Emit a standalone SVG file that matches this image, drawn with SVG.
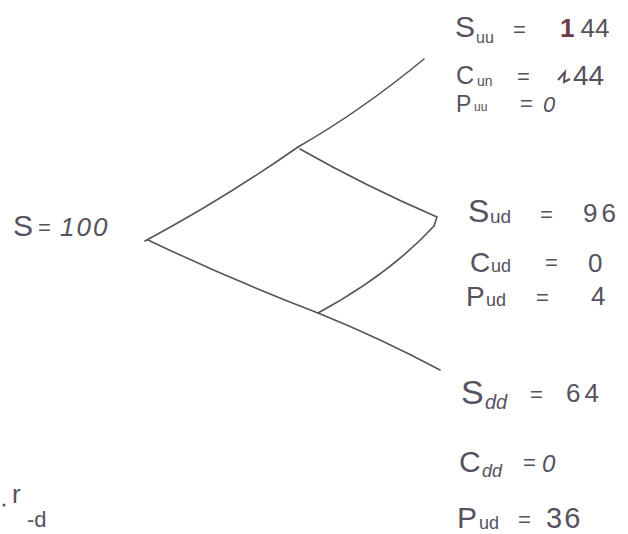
<svg xmlns="http://www.w3.org/2000/svg" width="628" height="534" viewBox="0 0 628 534">
<style>
text{font-family:"Liberation Sans","DejaVu Sans",sans-serif;fill:#55525e}
.b{font-size:26px}
.e{font-size:22px}
.ln{fill:none;stroke:#555;stroke-width:1.6;stroke-linecap:round;stroke-linejoin:round}
</style>
<rect width="628" height="534" fill="#fff"/>
<g id="connectors">
<path class="ln" d="M145,241 Q222,200 298,147"/>
<path class="ln" d="M298,147 Q361,111 424,59"/>
<path class="ln" d="M300,149 Q365,186 437,217 L434,226"/>
<path class="ln" d="M434,226 Q390,274 318,313"/>
<path class="ln" d="M148,240 Q232,280 318,313"/>
<path class="ln" d="M318,313 Q380,338 440,370"/>
</g>
<g id="node-root">
<text x="13" y="236" font-size="30">S</text>
<text x="38" y="235" font-size="22">=</text>
<text x="60" y="236" font-size="26" font-style="italic" letter-spacing="2">100</text>
</g>
<g id="node-uu">
<text x="455" y="37" font-size="30">S</text><text x="476" y="43" font-size="16">uu</text>
<text x="513" y="37" class="e">=</text>
<text x="560" y="37" class="b"><tspan fill="#6d3a48" font-weight="700">1</tspan><tspan dx="6">44</tspan></text>
<text x="456" y="84" font-size="25">C</text><text x="477" y="86" font-size="14">un</text>
<text x="517" y="84" class="e">=</text>
<path d="M558,80 l7,-8 l-1,10 l6,-3" fill="none" stroke="#5a4a55" stroke-width="2"/>
<text x="573" y="85" font-size="28">44</text>
<text x="456" y="112" font-size="23">P</text><text x="474" y="111" font-size="12">uu</text>
<text x="520" y="111" class="e">=</text><text x="543" y="112" font-size="22" font-style="italic">0</text>
</g>
<g id="node-ud">
<text x="468" y="222" font-size="32">S</text><text x="490" y="223" font-size="19">ud</text>
<text x="540" y="222" class="e">=</text>
<text x="583" y="222" class="b" letter-spacing="4">96</text>
<text x="470" y="272" font-size="28">C</text><text x="491" y="272" font-size="18">ud</text>
<text x="545" y="270" class="e">=</text><text x="588" y="272" class="b">0</text>
<text x="466" y="306" font-size="28">P</text><text x="486" y="306" font-size="18">ud</text>
<text x="536" y="305" class="e">=</text><text x="591" y="305" class="b">4</text>
</g>
<g id="node-dd">
<text x="461" y="404" font-size="34">S</text><text x="485" y="409" font-size="20" font-style="italic">dd</text>
<text x="530" y="402" class="e">=</text>
<text x="566" y="402" class="b" letter-spacing="4">64</text>
<text x="459" y="472" font-size="30">C</text><text x="482" y="477" font-size="18" font-style="italic">dd</text>
<text x="523" y="470" class="e">=</text><text x="542" y="472" font-size="24" font-style="italic">0</text>
<text x="457" y="528" font-size="30">P</text><text x="479" y="529" font-size="18">ud</text>
<text x="518" y="527" class="e">=</text><text x="546" y="528" font-size="29" letter-spacing="2">36</text>
</g>
<g id="note">
<circle cx="4" cy="505" r="1.5" fill="#55525e"/>
<text x="12" y="503" font-size="26">r</text>
<text x="27" y="527" font-size="22">-d</text>
</g>
</svg>
